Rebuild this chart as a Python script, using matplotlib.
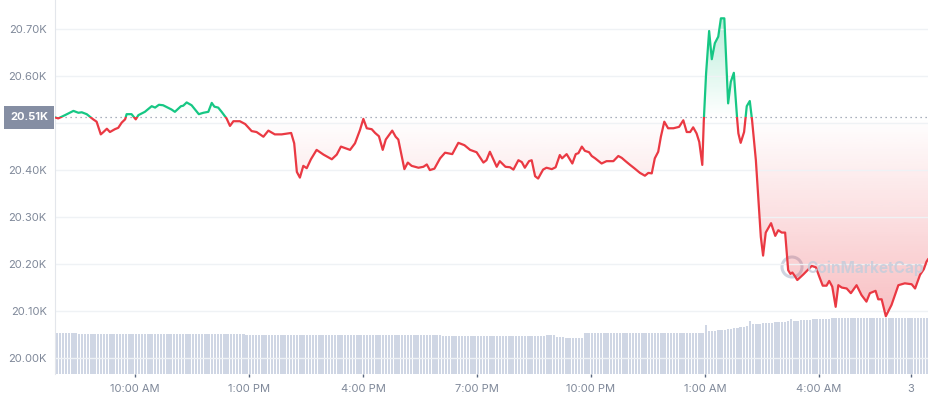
import numpy as np
import matplotlib.pyplot as plt
import matplotlib.transforms as mtransforms
from matplotlib.patches import Rectangle, Ellipse
from matplotlib.path import Path
from matplotlib.ticker import FuncFormatter

plt.rcParams['font.family'] = ['Inter', 'DejaVu Sans']

# price series: hours since midnight of day 2, price in USD
hours = [7.90, 7.98, 8.16, 8.38, 8.51, 8.60, 8.73, 8.90, 8.99, 9.10, 9.17, 9.26, 9.34, 9.47, 9.56,
         9.65, 9.74, 9.78, 9.91, 10.02, 10.09, 10.26, 10.44, 10.53, 10.63, 10.74, 10.86, 10.96,
         11.05, 11.21, 11.27, 11.36, 11.49, 11.68, 11.80, 11.93, 12.02, 12.09, 12.19, 12.28, 12.41,
         12.50, 12.59, 12.76, 12.90, 13.07, 13.20, 13.38, 13.51, 13.68, 13.86, 14.11, 14.19, 14.26,
         14.34, 14.43, 14.52, 14.63, 14.78, 14.96, 15.18, 15.31, 15.42, 15.66, 15.79, 15.92, 16.01,
         16.10, 16.23, 16.32, 16.42, 16.52, 16.60, 16.77, 16.86, 16.93, 17.09, 17.18, 17.28, 17.46,
         17.59, 17.68, 17.76, 17.88, 18.03, 18.16, 18.35, 18.51, 18.67, 18.82, 18.99, 19.17, 19.25,
         19.34, 19.52, 19.60, 19.75, 19.87, 19.96, 20.09, 20.18, 20.26, 20.37, 20.44, 20.53, 20.61,
         20.74, 20.83, 20.97, 21.07, 21.18, 21.24, 21.36, 21.51, 21.60, 21.67, 21.76, 21.84, 21.95,
         22.02, 22.11, 22.28, 22.41, 22.59, 22.72, 22.81, 22.91, 23.03, 23.14, 23.29, 23.42, 23.51,
         23.60, 23.68, 23.77, 23.84, 23.93, 24.03, 24.17, 24.32, 24.43, 24.52, 24.61, 24.69, 24.78,
         24.85, 24.93, 24.97, 25.03, 25.11, 25.18, 25.26, 25.35, 25.42, 25.51, 25.61, 25.68, 25.76,
         25.85, 25.88, 25.94, 26.03, 26.10, 26.18, 26.24, 26.34, 26.47, 26.53, 26.60, 26.74, 26.85,
         26.93, 27.02, 27.11, 27.19, 27.25, 27.30, 27.37, 27.43, 27.59, 27.81, 27.92, 28.01, 28.10,
         28.20, 28.27, 28.35, 28.44, 28.51, 28.60, 28.73, 28.84, 28.99, 29.12, 29.25, 29.34, 29.49,
         29.56, 29.65, 29.76, 29.91, 30.09, 30.26, 30.44, 30.53, 30.66, 30.76, 30.83, 30.87]
price = [20512, 20510, 20517, 20526, 20522, 20523, 20519, 20508, 20503, 20476, 20481, 20488, 20481,
         20487, 20490, 20501, 20508, 20519, 20519, 20508, 20517, 20524, 20536, 20533, 20539, 20538,
         20533, 20529, 20524, 20536, 20537, 20544, 20538, 20519, 20522, 20524, 20543, 20535, 20533,
         20524, 20510, 20494, 20504, 20504, 20498, 20483, 20481, 20471, 20484, 20476, 20476, 20479,
         20457, 20396, 20384, 20409, 20404, 20423, 20443, 20433, 20423, 20433, 20450, 20443, 20457,
         20485, 20509, 20489, 20487, 20479, 20472, 20443, 20465, 20484, 20471, 20465, 20402, 20416,
         20409, 20405, 20407, 20412, 20400, 20403, 20425, 20437, 20434, 20458, 20453, 20443, 20438,
         20416, 20421, 20439, 20407, 20419, 20407, 20406, 20401, 20421, 20417, 20405, 20419, 20421,
         20387, 20382, 20401, 20405, 20402, 20406, 20432, 20425, 20434, 20414, 20434, 20436, 20450,
         20441, 20438, 20430, 20425, 20414, 20419, 20419, 20430, 20426, 20419, 20411, 20404, 20394,
         20388, 20394, 20393, 20425, 20439, 20471, 20503, 20489, 20489, 20492, 20506, 20481, 20481,
         20491, 20478, 20460, 20411, 20506, 20606, 20696, 20636, 20670, 20684, 20723, 20723, 20542,
         20588, 20607, 20506, 20478, 20458, 20481, 20536, 20547, 20506, 20421, 20258, 20218, 20267,
         20287, 20260, 20272, 20267, 20267, 20187, 20179, 20182, 20174, 20166, 20178, 20196, 20193,
         20173, 20154, 20154, 20164, 20152, 20109, 20155, 20150, 20148, 20138, 20155, 20134, 20120,
         20138, 20143, 20125, 20125, 20089, 20113, 20155, 20159, 20157, 20148, 20177, 20189, 20205,
         20210]

# volume bars, one per 5 minutes
volume = ([41.3] * 7 + [40.3] * 53 + [39.3] * 62 + [38.3] * 33 + [39.3] * 3 + [37.3] * 3
          + [36.3] * 6 + [40.7] * 38 + [49.0]
          + [43.0, 43.0, 43.3, 43.7, 44.0, 44.3, 44.7, 45.3, 45.7, 46.3, 47.0, 47.3]
          + [48.0, 53.0, 50.0, 50.0, 50.3, 50.7, 50.7, 51.0, 51.3, 51.7, 52.0, 52.3, 52.3]
          + [52.7, 54.7, 53.3, 53.3, 53.7, 54.0, 54.0, 54.3, 54.7, 54.7, 55.0, 55.0, 55.3, 55.3]
          + [56.0] * 10 + [56.3] * 21)

tick_hours = [10, 13, 16, 19, 22, 25, 28, 30.42]
tick_labels = ['10:00 AM', '1:00 PM', '4:00 PM', '7:00 PM', '10:00 PM', '1:00 AM', '4:00 AM', '3']
y_ticks = [20000, 20100, 20200, 20300, 20400, 20500, 20600, 20700]

hours = np.array(hours)
price = np.array(price)
base = price[0]
t0, t1 = 7.895, 30.87
green, red = '#16c784', '#ea3943'
text_grey = '#7f8899'

fig = plt.figure(figsize=(9.3, 4.0), dpi=100)
ax = fig.add_axes([55 / 930, 26 / 400, 873 / 930, 374 / 400])
ax2 = ax.twinx()
ax.set_zorder(ax2.get_zorder() + 1)
ax.patch.set_visible(False)

# volume bars
bar_hours = t0 + (np.arange(len(volume)) + 0.5) / 12
ax2.bar(bar_hours, volume, width=0.062, color='#cfd6e4', linewidth=0)
ax2.set_ylim(0, max(volume) * 6.65)
ax2.axis('off')

# gradient fills between the line and the opening price, fading toward the opening price
above = ax.fill_between(hours, price, base, where=price >= base, interpolate=True,
                        facecolor='none', edgecolor='none')
below = ax.fill_between(hours, price, base, where=price <= base, interpolate=True,
                        facecolor='none', edgecolor='none')

grad = np.zeros((256, 1, 4))
grad[:, 0, :3] = [22 / 255, 199 / 255, 132 / 255]
grad[:, 0, 3] = np.linspace(0.0, 0.3, 256)
im = ax.imshow(grad, extent=[t0, t1, base, price.max()], origin='lower', aspect='auto', zorder=1)
im.set_clip_path(Path.make_compound_path(*above.get_paths()), transform=ax.transData)

grad = np.zeros((256, 1, 4))
grad[:, 0, :3] = [234 / 255, 57 / 255, 67 / 255]
grad[:, 0, 3] = np.linspace(0.32, 0.0, 256)
im = ax.imshow(grad, extent=[t0, t1, price.min(), base], origin='lower', aspect='auto', zorder=1)
im.set_clip_path(Path.make_compound_path(*below.get_paths()), transform=ax.transData)

# price line, green above the opening price and red below it
up_line, = ax.plot(hours, price, color=green, lw=1.6, zorder=3, solid_joinstyle='round')
up_line.set_clip_path(Rectangle((t0, base), t1 - t0, 2000, transform=ax.transData))
down_line, = ax.plot(hours, price, color=red, lw=1.6, zorder=3, solid_joinstyle='round')
down_line.set_clip_path(Rectangle((t0, base - 2000), t1 - t0, 2000, transform=ax.transData))

ax.axhline(base, color='#8f96a8', lw=0.9, ls=(0, (1, 3)), zorder=2)

ax.set_xlim(t0, t1)
ax.set_ylim(19966, 20762)
ax.set_yticks(y_ticks)
ax.yaxis.set_major_formatter(FuncFormatter(lambda v, p: '' if v == 20500 else f'{v / 1000:.2f}K'))
ax.set_xticks(tick_hours)
ax.set_xticklabels(tick_labels)
ax.grid(axis='y', color='#eff2f5', lw=1, zorder=0)
ax.tick_params(axis='y', length=0, pad=6, labelsize=8, labelcolor=text_grey)
ax.tick_params(axis='x', length=2.5, width=1, color='#58667e', pad=5, labelsize=8,
               labelcolor=text_grey)
for side in ['top', 'right', 'bottom']:
    ax.spines[side].set_visible(False)
ax.spines['left'].set_color('#e3e6eb')

# opening price label
trans = mtransforms.blended_transform_factory(fig.transFigure, ax.transData)
ax.text(29 / 930, base, f'{base / 1000:.2f}K', transform=trans, ha='center', va='center',
        color='white', fontsize=8, fontweight='bold', zorder=5, clip_on=False,
        bbox=dict(boxstyle='square,pad=0.55', facecolor='#858ea3', edgecolor='none'))

# watermark
fig.add_artist(Ellipse((792 / 930, 133 / 400), 20 / 930, 20 / 400, transform=fig.transFigure,
                       facecolor='none', edgecolor='#c6cddb', lw=2.2, alpha=0.85))
fig.text(806 / 930, 132 / 400, 'CoinMarketCap', fontsize=11, fontweight='bold',
         color='#c6cddb', alpha=0.85, ha='left', va='center')

fig.savefig('out.png', dpi=100)
